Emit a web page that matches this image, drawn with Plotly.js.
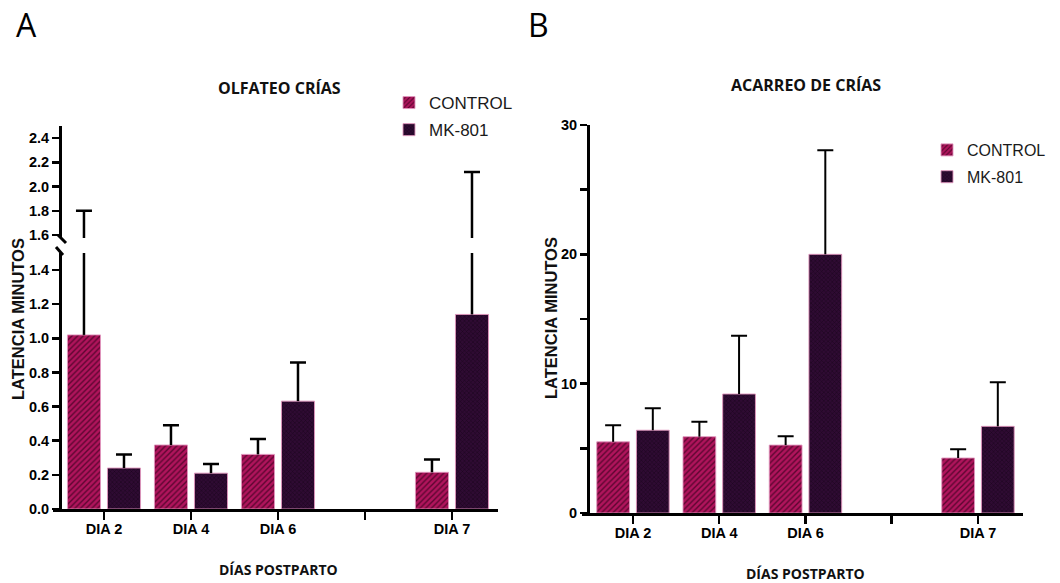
<!DOCTYPE html>
<html>
<head>
<meta charset="utf-8">
<script src="https://cdn.plot.ly/plotly-3.0.1.min.js"></script>
<style>html,body{margin:0;padding:0;background:#fff;}#chart{width:1060px;height:583px;}</style>
</head>
<body>
<div id="chart"></div>
<script>
// ---------- data ----------
const categories = ['DIA 2', 'DIA 4', 'DIA 6', 'DIA 7'];
const axisCategories = ['DIA 2', 'DIA 4', 'DIA 6', '\u00a0', 'DIA 7'];

// Panel A: OLFATEO CRÍAS (latencia, minutos) - mean and SEM
const olfControl = [1.02, 0.375, 0.32, 0.215];
const olfControlErr = [0.78, 0.115, 0.09, 0.075];
const olfMk = [0.24, 0.21, 0.632, 1.14];
const olfMkErr = [0.08, 0.053, 0.226, 0.98];

// Panel B: ACARREO DE CRÍAS (latencia, minutos) - mean and SEM
const acaControl = [5.5, 5.9, 5.25, 4.25];
const acaControlErr = [1.28, 1.15, 0.68, 0.68];
const acaMk = [6.4, 9.2, 20.0, 6.7];
const acaMkErr = [1.7, 4.5, 8.05, 3.4];

const olfLowTicks = [0, 0.2, 0.4, 0.6, 0.8, 1.0, 1.2, 1.4];
const olfHighTicks = [1.6, 1.8, 2.0, 2.2, 2.4];
const acaTicks = [0, 5, 10, 15, 20, 25, 30];
const acaTickText = ['0', '', '10', '', '20', '', '30'];

// ---------- helpers ----------
const W = 1060, H = 583;
const fx = p => p / W;
const fy = p => 1 - p / H;

const styles = {
  'CONTROL': {shape: '/', bgcolor: '#b0145c', fgcolor: '#5c0630', size: 4, solidity: 0.35, fillmode: 'replace'},
  'MK-801': {shape: 'x', bgcolor: '#2f0b33', fgcolor: '#19041b', size: 3, solidity: 0.3, fillmode: 'replace'}
};
const lineCol = 'rgba(225,150,190,0.9)';

// real bars with the vertical whisker (no caps)
function bars(name, xa, ya, vals, errs, opts) {
  return {
    type: 'bar', name: name, x: categories, y: vals,
    xaxis: xa, yaxis: ya, offsetgroup: name, legendgroup: name + opts.legend,
    legend: opts.legend, showlegend: !!opts.showlegend,
    marker: {color: styles[name].bgcolor, pattern: styles[name], line: {color: lineCol, width: 1}},
    error_y: {type: 'data', symmetric: false, array: errs, arrayminus: vals.map(() => 0),
      color: '#000', thickness: opts.thick, width: 0},
    hoverinfo: 'skip'
  };
}
// invisible bars reaching mean+SEM, used only to draw the error-bar cap
function caps(name, xa, ya, vals, errs, opts) {
  return {
    type: 'bar', name: name, x: categories, y: vals.map((v, i) => v + errs[i]),
    xaxis: xa, yaxis: ya, offsetgroup: name, legend: opts.legend, showlegend: false,
    marker: {color: 'rgba(0,0,0,0)', line: {width: 0}},
    error_y: {type: 'data', symmetric: false, array: vals.map(() => 0), arrayminus: vals.map(() => 0),
      color: '#000', thickness: opts.thick, width: 8},
    hoverinfo: 'skip'
  };
}

const oA = {legend: 'legend', thick: 2.5};
const oB = {legend: 'legend2', thick: 2};
const traces = [
  // Panel A lower segment
  bars('CONTROL', 'x', 'y', olfControl, olfControlErr, Object.assign({showlegend: true}, oA)),
  bars('MK-801', 'x', 'y', olfMk, olfMkErr, Object.assign({showlegend: true}, oA)),
  caps('CONTROL', 'x', 'y', olfControl, olfControlErr, oA),
  caps('MK-801', 'x', 'y', olfMk, olfMkErr, oA),
  // Panel A upper segment (broken axis)
  bars('CONTROL', 'x', 'y2', olfControl, olfControlErr, oA),
  bars('MK-801', 'x', 'y2', olfMk, olfMkErr, oA),
  caps('CONTROL', 'x', 'y2', olfControl, olfControlErr, oA),
  caps('MK-801', 'x', 'y2', olfMk, olfMkErr, oA),
  // Panel B
  bars('CONTROL', 'x3', 'y3', acaControl, acaControlErr, Object.assign({showlegend: true}, oB)),
  bars('MK-801', 'x3', 'y3', acaMk, acaMkErr, Object.assign({showlegend: true}, oB)),
  caps('CONTROL', 'x3', 'y3', acaControl, acaControlErr, oB),
  caps('MK-801', 'x3', 'y3', acaMk, acaMkErr, oB)
];

const tickFont = {family: 'Liberation Sans, Arial, sans-serif', size: 14.5, color: '#000', weight: 700};
const titleFont = {family: 'Open Sans, sans-serif', size: 16, color: '#111', weight: 700};
const axTitleFont = {family: 'Open Sans, sans-serif', size: 14, color: '#111', weight: 700};
const yTitleFont = {family: 'Liberation Sans, Arial, sans-serif', size: 16.5, color: '#111', weight: 700};

const baseX = {
  type: 'category', categoryorder: 'array', categoryarray: axisCategories,
  showline: true, linecolor: '#000', linewidth: 3, ticks: 'outside', ticklen: 8, tickwidth: 2.5,
  tickcolor: '#000', tickfont: tickFont, ticklabelstandoff: -3,
  showgrid: false, zeroline: false, fixedrange: true
};
const baseY = {
  showline: true, linecolor: '#000', linewidth: 3, ticks: 'outside', ticklen: 7, tickwidth: 2.5,
  tickcolor: '#000', tickfont: tickFont, showgrid: false, zeroline: false, fixedrange: true, anchor: 'free'
};

function ann(text, x, y, font, extra) {
  return Object.assign({text: text, x: fx(x), y: fy(y), xref: 'paper', yref: 'paper', showarrow: false,
    xanchor: 'center', yanchor: 'middle', font: font}, extra || {});
}

const layout = {
  width: W, height: H,
  margin: {l: 0, r: 0, t: 0, b: 0},
  paper_bgcolor: '#fff', plot_bgcolor: 'rgba(0,0,0,0)',
  barmode: 'group', bargap: 0.08, bargroupgap: 0.174,
  xaxis: Object.assign({}, baseX, {domain: [fx(53), fx(498)], anchor: 'y', range: [-0.586, 4.529]}),
  yaxis: Object.assign({}, baseY, {domain: [fy(509), fy(253)], range: [0, 1.5], position: fx(60),
    tickvals: olfLowTicks, tickformat: '.1f'}),
  yaxis2: Object.assign({}, baseY, {domain: [fy(238), fy(126)], range: [1.575, 2.5], position: fx(60),
    tickvals: olfHighTicks, tickformat: '.1f'}),
  xaxis3: Object.assign({}, baseX, {domain: [fx(582), fx(1023)], anchor: 'y3', range: [-0.591, 4.522]}),
  yaxis3: Object.assign({}, baseY, {domain: [fy(513), fy(125)], range: [0, 30], position: fx(588),
    linewidth: 2.5, tickvals: acaTicks, ticktext: acaTickText}),
  legend: {x: fx(389), y: fy(85), xanchor: 'left', yanchor: 'top', bgcolor: 'rgba(0,0,0,0)',
    font: {family: 'Liberation Sans, Arial, sans-serif', size: 17, color: '#1a1a1a'},
    traceorder: 'grouped', tracegroupgap: 2},
  legend2: {x: fx(927), y: fy(133), xanchor: 'left', yanchor: 'top', bgcolor: 'rgba(0,0,0,0)',
    font: {family: 'Liberation Sans, Arial, sans-serif', size: 16, color: '#1a1a1a'},
    traceorder: 'grouped', tracegroupgap: 3},
  annotations: [
    ann('A', 26, 25, {family: 'Open Sans, sans-serif', size: 32, color: '#000'}),
    ann('B', 538, 24, {family: 'Open Sans, sans-serif', size: 32, color: '#000'}),
    ann('OLFATEO CRÍAS', 279, 88, titleFont),
    ann('ACARREO DE CRÍAS', 806, 85, titleFont),
    ann('DÍAS POSTPARTO', 278, 569, axTitleFont),
    ann('DÍAS POSTPARTO', 805, 573, axTitleFont),
    ann('LATENCIA MINUTOS', 18, 319, yTitleFont, {textangle: -90}),
    ann('LATENCIA MINUTOS', 551, 318, yTitleFont, {textangle: -90})
  ],
  shapes: [
    // axis-break marks on panel A
    {type: 'line', xref: 'paper', yref: 'paper', x0: fx(58), y0: fy(235), x1: fx(66), y1: fy(243), line: {color: '#000', width: 3}},
    {type: 'line', xref: 'paper', yref: 'paper', x0: fx(56), y0: fy(247), x1: fx(63), y1: fy(255), line: {color: '#000', width: 3}}
  ]
};

Plotly.newPlot('chart', traces, layout, {staticPlot: true, displayModeBar: false});
</script>
</body>
</html>
